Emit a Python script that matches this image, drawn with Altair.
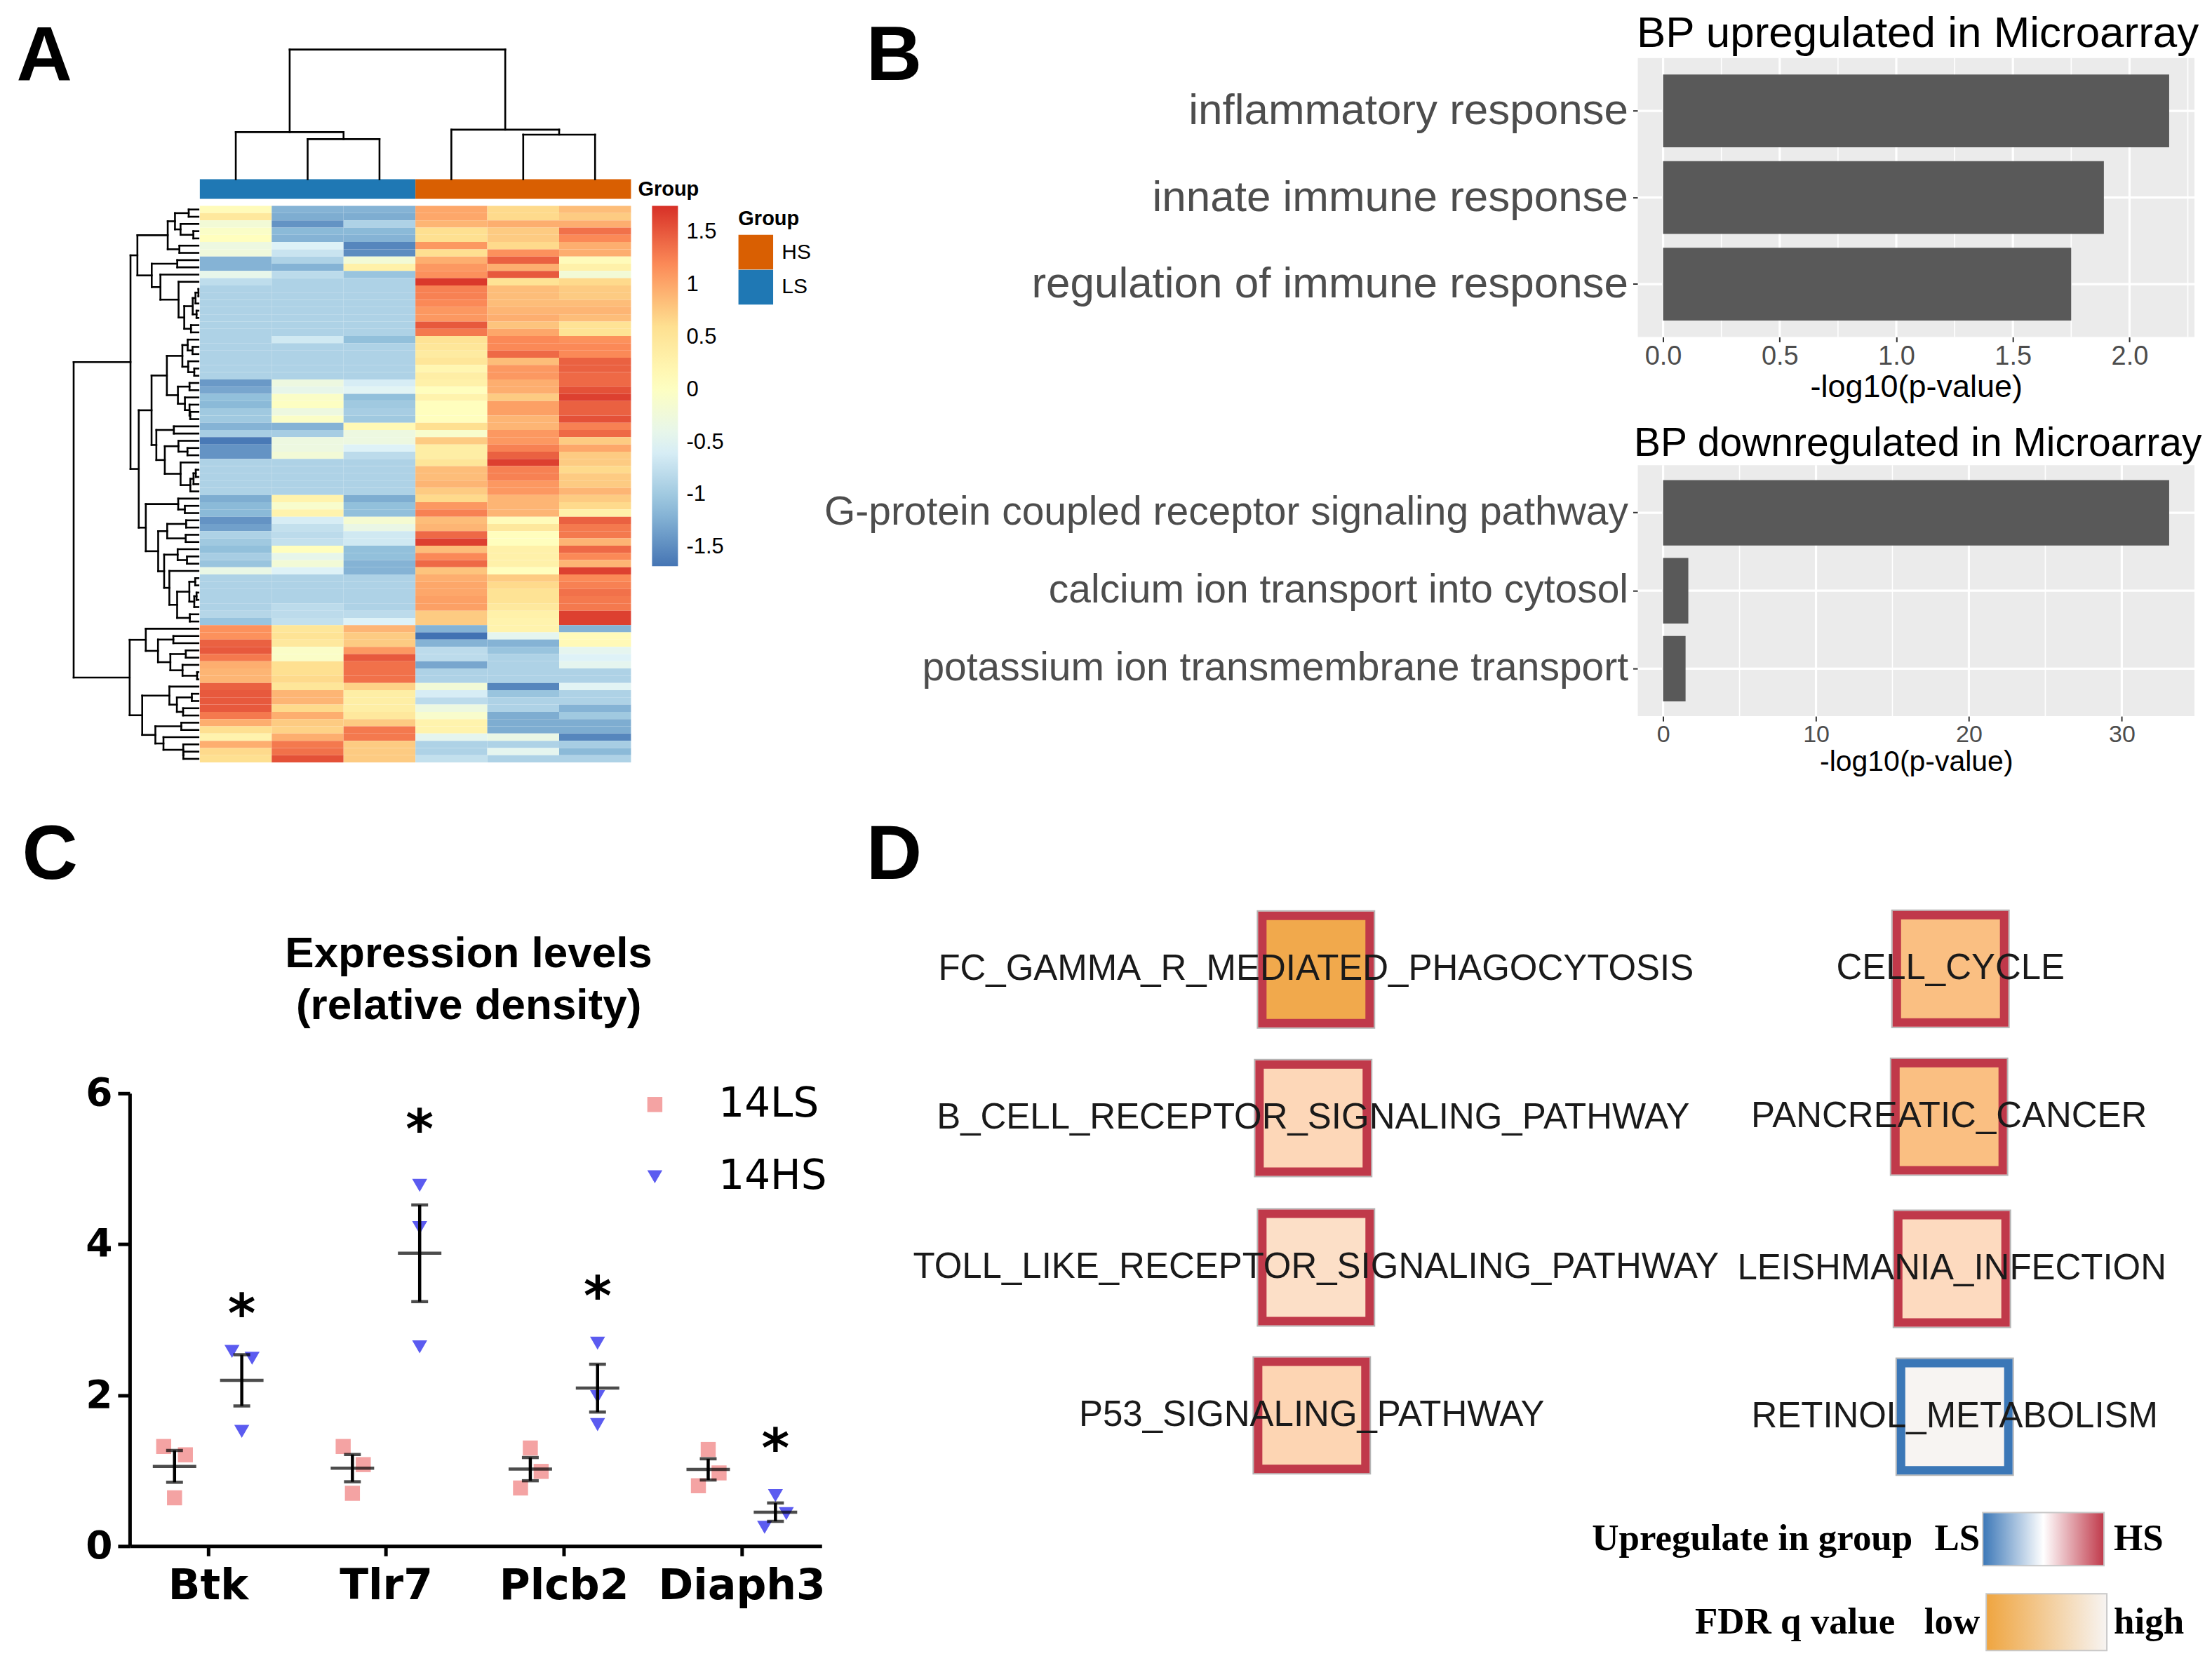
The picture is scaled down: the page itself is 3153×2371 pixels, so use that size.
import numpy as np
import pandas as pd
import altair as alt

# ======================= DATA =======================
# ---- Panel A: row-scaled expression (z-scores), 77 genes x 6 samples ----
LS1 = [0.1, 0.45, -0.2, -0.05, 0.05, -0.3, -0.25, -1.2, -1.2, -0.4,
       -0.78, -0.9, -0.9, -0.9, -0.9, -0.9, -0.9, -0.9, -0.9, -0.9,
       -0.9, -0.9, -0.9, -0.9, -1.4, -1.3, -1.1, -1.15, -1.0, -1.0,
       -1.2, -0.95, -1.65, -1.45, -1.45, -0.9, -0.9, -0.9, -0.9, -0.9,
       -1.25, -1.15, -1.15, -1.45, -1.35, -0.9, -1.0, -1.1, -0.95, -1.05,
       -0.35, -0.9, -0.9, -0.9, -0.9, -0.9, -0.85, -1.05,
       1.15, 1.15, 1.45, 1.5, 1.3, 0.95, 0.9, 0.9, 1.45, 1.5,
       1.5, 1.5, 1.3, 0.95, 0.6, 0.25, 0.95, 0.65, 0.6]
LS2 = [-1.2, -1.25, -1.45, -1.15, -1.2, -0.55, -0.7, -0.9, -1.2, -0.8,
       -0.9, -0.9, -0.9, -0.9, -0.9, -0.9, -0.9, -0.9, -0.65, -0.9,
       -0.9, -0.9, -0.9, -0.9, -0.3, -0.4, -0.05, 0.0, -0.3, -0.05,
       -1.2, -0.95, -0.3, -0.3, -0.2, -0.9, -0.9, -0.9, -0.9, -0.9,
       0.25, -0.1, 0.25, -0.6, -0.75, -0.8, -0.75, 0.05, -0.4, -0.2,
       -0.55, -0.9, -0.9, -0.9, -0.9, -0.8, -0.8, -0.75,
       0.5, 0.55, 0.45, -0.05, -0.05, 0.6, 0.6, 0.65, 0.5, 0.9,
       0.9, 0.65, 0.95, 0.75, 0.7, 0.95, 1.3, 1.35, 1.55]
LS3 = [-1.2, -1.25, -0.9, -1.15, -1.2, -1.55, -1.5, -0.2, 0.3, -1.05,
       -0.9, -0.9, -0.9, -0.9, -0.9, -0.9, -0.9, -0.9, -1.1, -0.9,
       -0.9, -0.9, -0.9, -0.9, -0.6, -0.5, -1.1, -1.0, -0.95, -1.0,
       0.15, -0.3, -0.3, -0.55, -0.8, -0.9, -0.9, -0.9, -0.9, -0.9,
       -1.25, -1.1, -1.1, -0.15, -0.35, -0.65, -0.65, -1.1, -1.1, -1.2,
       -1.2, -0.9, -0.9, -0.9, -0.9, -0.9, -0.8, -0.55,
       0.9, 0.75, 0.75, 1.1, 1.5, 1.35, 1.35, 1.35, 0.7, 0.35,
       0.35, 0.35, 0.45, 0.75, 1.3, 1.3, 0.75, 0.75, 0.75]
HS1 = [1.0, 1.0, 0.9, 0.6, 0.6, 1.1, 0.6, 0.95, 1.1, 1.15,
       1.7, 1.25, 1.25, 1.2, 1.1, 1.1, 1.5, 1.3, 0.55, 0.5,
       0.4, 0.5, 0.2, 0.35, 0.3, 0.05, 0.25, 0.05, 0.05, 0.05,
       0.6, -0.1, 0.75, 0.35, 0.35, 0.5, 0.85, 0.85, 0.9, 0.75,
       0.65, 1.1, 1.25, 0.85, 0.9, 1.4, 1.65, 0.85, 1.2, 1.4,
       0.8, 0.95, 1.0, 1.0, 1.05, 1.05, 0.75, 0.75,
       -1.2, -1.7, -1.2, -0.8, -0.8, -1.3, -0.9, -0.9, -0.2, -0.6,
       -0.8, -0.3, -0.1, 0.25, 0.25, -0.45, -0.9, -0.9, -0.75]
HS2 = [0.65, 0.65, 0.95, 0.75, 0.75, 0.65, 1.15, 1.45, 0.95, 1.5,
       0.55, 0.85, 0.85, 0.85, 0.9, 0.95, 0.8, 1.0, 1.2, 1.2,
       1.4, 0.85, 1.1, 1.1, 0.95, 0.95, 0.75, 1.05, 1.05, 0.9,
       0.9, 1.1, 1.1, 1.25, 1.45, 1.65, 1.25, 1.25, 1.1, 1.1,
       0.9, 0.9, 0.9, 0.1, 0.45, 0.05, 0.05, 0.3, 0.3, 0.3,
       0.05, 0.75, 0.65, 0.55, 0.55, 0.45, 0.3, 0.25,
       0.25, -0.45, -1.2, -1.05, -0.9, -0.9, -0.9, -0.9, -1.55, -1.05,
       -0.9, -0.9, -1.25, -1.25, -1.25, -0.35, -0.9, -0.45, -0.9]
HS3 = [0.85, 0.75, 0.95, 1.35, 1.2, 0.95, 0.95, 0.1, 0.3, -0.2,
       0.65, 0.75, 0.75, 0.85, 0.9, 0.85, 0.55, 0.55, 1.15, 1.2,
       1.2, 1.45, 1.45, 1.4, 1.4, 1.55, 1.65, 1.45, 1.45, 1.55,
       1.25, 1.4, 0.75, 1.0, 0.75, 0.75, 0.65, 0.75, 0.75, 0.9,
       0.75, 0.65, 0.3, 1.45, 1.3, 1.3, 0.9, 1.4, 1.2, 0.9,
       1.65, 1.2, 1.25, 1.35, 1.3, 1.3, 1.65, 1.65,
       -1.2, 0.1, 0.15, -0.45, -0.55, -0.45, -0.9, -0.9, -0.5, -0.9,
       -0.9, -1.2, -1.0, -1.25, -1.25, -1.55, -0.95, -1.15, -0.9]
sample_groups = ["LS", "LS", "LS", "HS", "HS", "HS"]
# column dendrogram (scipy-style ids, heights relative to root)
col_merge_a = [1, 0, 4, 3, 7]
col_merge_b = [2, 6, 5, 8, 9]
col_merge_h = [0.309, 0.363, 0.344, 0.382, 1.0]
heat_legend_ticks = [1.5, 1, 0.5, 0, -0.5, -1, -1.5]

# ---- Panel B ----
up_terms = ["inflammatory response", "innate immune response", "regulation of immune response"]
up_vals = [2.17, 1.89, 1.75]
up_major = [0, 0.5, 1.0, 1.5, 2.0]
up_minor = [0.25, 0.75, 1.25, 1.75, 2.25]
down_terms = ["G-protein coupled receptor signaling pathway", "calcium ion transport into cytosol",
              "potassium ion transmembrane transport"]
down_vals = [33.1, 1.65, 1.47]
down_major = [0, 10, 20, 30]
down_minor = [5, 15, 25]

# ---- Panel C ----
genes = ["Btk", "Tlr7", "Plcb2", "Diaph3"]
ls_vals = [[1.32, 1.21, 0.64], [1.32, 1.08, 0.70], [1.30, 0.99, 0.77], [1.28, 0.97, 0.80]]
hs_vals = [[2.58, 2.49, 1.52], [4.78, 4.22, 2.64], [2.69, 1.98, 1.61], [0.67, 0.43, 0.25]]
ls_jitter = [[-0.061, 0.061, 0.0], [-0.052, 0.061, 0.0], [0.0, 0.061, -0.055], [0.0, 0.061, -0.055]]
hs_jitter = [[-0.055, 0.058, 0.0], [0.0, 0.0, 0.0], [0.0, 0.0, 0.0], [0.0, 0.061, -0.061]]
star_y = [3.2, 5.64, 3.43, 1.42]
group_names = ["14LS", "14HS"]

# ---- Panel D ----
d_names = ["FC_GAMMA_R_MEDIATED_PHAGOCYTOSIS", "B_CELL_RECEPTOR_SIGNALING_PATHWAY",
           "TOLL_LIKE_RECEPTOR_SIGNALING_PATHWAY", "P53_SIGNALING_PATHWAY",
           "CELL_CYCLE", "PANCREATIC_CANCER", "LEISHMANIA_INFECTION", "RETINOL_METABOLISM"]
d_x = [-452, -456, -452, -458, 453, 451, 455, 459]
d_y = [-318, -106, 107, 318, -319, -108, 109, 320]
d_dir = [1, 1, 1, 1, 1, 1, 1, -1]        # 1 = up in HS, -1 = up in LS
d_fdr = [0.06, 0.66, 0.75, 0.63, 0.35, 0.35, 0.70, 1.0]   # relative FDR q (low..high)

# ======================= STYLE =======================
SANS = "Liberation Sans"
SERIF = "Liberation Serif"
DEJAVU = "DejaVu Sans"
HEAT_COLORS = ["#4575B4", "#91BFDB", "#E0F3F8", "#FFFFBF", "#FEE090", "#FC8D59", "#D73027"]
GROUP_COLORS = ["#D95F02", "#1F78B4"]   # HS, LS
STROKE_RANGE = ["#3B77B7", "#FFFFFF", "#C0394A"]
FDR_RANGE = ["#EFA540", "#F7F4F2"]
NO_VIEW = alt.ViewBackground(stroke="transparent", strokeWidth=0)


def letter_axis(letter, tx, ty, **kw):
    """Hidden axis whose title carries a panel letter."""
    base = dict(title=letter, titleX=tx, titleY=ty, titleAngle=0, titleAlign="left",
                titleBaseline="alphabetic", titleFont=SANS, titleFontSize=110,
                titleFontWeight="bold", titleColor="black", labels=False, ticks=False,
                domain=False, grid=False)
    base.update(kw)
    return alt.Axis(**base)


# ======================= PANEL A =======================
M = np.array([LS1, LS2, LS3, HS1, HS2, HS3]).T
n_rows = M.shape[0]
ANN_Y0, ANN_Y1 = -3.69, -0.97
COL_TREE_TOP = -21.63
ROW_TREE_LEFT = -1.756
LEAF_GAP = -0.02
A_LEFT, A_TOP, A_W, A_H = 185, 76, 715, 1005

heat_df = pd.DataFrame([{"x0": c, "x1": c + 1, "y0": r, "y1": r + 1, "value": float(M[r, c])}
                        for r in range(n_rows) for c in range(6)])


def constrained_complete(mat):
    D = np.sqrt(((mat[:, None, :] - mat[None, :, :]) ** 2).sum(-1))
    clusters = [[i] for i in range(len(mat))]
    nodes = [(i + 0.5, 0.0) for i in range(len(mat))]
    segs = []
    while len(clusters) > 1:
        d = [D[np.ix_(clusters[k], clusters[k + 1])].max() for k in range(len(clusters) - 1)]
        k = int(np.argmin(d))
        h = d[k]
        (pa, ha), (pb, hb) = nodes[k], nodes[k + 1]
        segs += [(pa, ha, pa, h), (pb, hb, pb, h), (pa, h, pb, h)]
        clusters[k:k + 2] = [clusters[k] + clusters[k + 1]]
        nodes[k:k + 2] = [((pa + pb) / 2, h)]
    return segs, nodes[0][1]


rsegs, rtop = constrained_complete(M)
hx = lambda h: LEAF_GAP + (ROW_TREE_LEFT - LEAF_GAP) * h / rtop
row_tree_df = pd.DataFrame([{"x": hx(h1), "x2": hx(h2), "y": p1, "y2": p2} for p1, h1, p2, h2 in rsegs])

cnodes = {i: (i + 0.5, 0.0) for i in range(6)}
csegs = []
for j, (a, b, h) in enumerate(zip(col_merge_a, col_merge_b, col_merge_h)):
    (pa, ha), (pb, hb) = cnodes[a], cnodes[b]
    csegs += [(pa, ha, pa, h), (pb, hb, pb, h), (pa, h, pb, h)]
    cnodes[6 + j] = ((pa + pb) / 2, h)
cy = lambda h: ANN_Y0 + (COL_TREE_TOP - ANN_Y0) * h
col_tree_df = pd.DataFrame([{"x": p1, "x2": p2, "y": cy(h1), "y2": cy(h2)} for p1, h1, p2, h2 in csegs])

ann_df = pd.DataFrame({"grp": ["LS", "HS"],
                       "x0": [sample_groups.index("LS"), sample_groups.index("HS")],
                       "x1": [sample_groups.index("LS") + sample_groups.count("LS"),
                              sample_groups.index("HS") + sample_groups.count("HS")],
                       "y0": [ANN_Y0, ANN_Y0], "y1": [ANN_Y1, ANN_Y1]})
ann_label_df = pd.DataFrame({"x": [6], "y": [(ANN_Y0 + ANN_Y1) / 2], "t": ["Group"]})

xsA = alt.Scale(domain=[-0.976, 6], nice=False, zero=False)
ysA = alt.Scale(domain=[-20.46, 77], nice=False, zero=False, reverse=True)
axA_y = letter_axis("A", 23 - A_LEFT, 107 - A_TOP)
axA_x = letter_axis("B", 1235 - A_LEFT, 107 - A_TOP - A_H)   # letter of panel B
vmin, vmax = -1.68, 1.75
heat_domain = [float(v) for v in np.linspace(vmin, vmax, len(HEAT_COLORS))]

heat = alt.Chart(heat_df).mark_rect().encode(
    x=alt.X("x0:Q", scale=xsA, axis=axA_x), x2="x1",
    y=alt.Y("y0:Q", scale=ysA, axis=axA_y), y2="y1",
    color=alt.Color("value:Q", scale=alt.Scale(domain=heat_domain, range=HEAT_COLORS, interpolate="rgb"),
                    legend=alt.Legend(type="gradient", orient="none", legendX=745, legendY=211, title=None,
                                      direction="vertical", gradientLength=514, gradientThickness=37,
                                      gradientStrokeWidth=0, values=heat_legend_ticks,
                                      labelExpr="toString(datum.value)", labelFont=SANS,
                                      labelFontSize=31, labelColor="black", labelOffset=12,
                                      labelOverlap=False)),
)
ann = alt.Chart(ann_df).mark_rect().encode(
    x=alt.X("x0:Q", scale=xsA, axis=axA_x), x2="x1",
    y=alt.Y("y0:Q", scale=ysA, axis=axA_y), y2="y1",
    color=alt.Color("grp:N", scale=alt.Scale(domain=["HS", "LS"], range=GROUP_COLORS),
                    legend=alt.Legend(orient="none", legendX=868, legendY=215, title="Group",
                                      titleFont=SANS, titleFontSize=29, titleFontWeight="bold",
                                      titleColor="black", titlePadding=8, labelFont=SANS,
                                      labelFontSize=30, labelColor="black", symbolType="square",
                                      symbolSize=2450, symbolStrokeWidth=0, rowPadding=0,
                                      labelOffset=12)),
)
ann_label = alt.Chart(ann_label_df).mark_text(align="left", baseline="middle", dx=10, font=SANS,
                                              fontSize=29, fontWeight="bold", color="black").encode(
    x=alt.X("x:Q", scale=xsA, axis=axA_x), y=alt.Y("y:Q", scale=ysA, axis=axA_y), text="t:N")
row_tree = alt.Chart(row_tree_df).mark_rule(color="black", strokeWidth=2.6, strokeCap="square").encode(
    x=alt.X("x:Q", scale=xsA, axis=axA_x), x2="x2",
    y=alt.Y("y:Q", scale=ysA, axis=axA_y), y2="y2")
col_tree = alt.Chart(col_tree_df).mark_rule(color="black", strokeWidth=2.6, strokeCap="square").encode(
    x=alt.X("x:Q", scale=xsA, axis=axA_x), x2="x2",
    y=alt.Y("y:Q", scale=ysA, axis=axA_y), y2="y2")

panelA = alt.layer(heat, ann, ann_label, row_tree, col_tree).resolve_scale(
    color="independent").properties(width=A_W, height=A_H, view=NO_VIEW)


# ======================= PANEL B =======================
def bp_panel(terms, vals, domain, major, minor, fmt, title, h, pin, pout, fs, tx, ty):
    xs = alt.Scale(domain=domain, nice=False, zero=False)
    ys = alt.Scale(paddingInner=pin, paddingOuter=pout)
    xax = alt.Axis(values=major, format=fmt, title="-log10(p-value)", grid=False, domain=False,
                   tickSize=7, tickWidth=2, tickColor="#333333", labelFont=SANS,
                   labelFontSize=fs["tick"], labelColor="#4D4D4D", labelPadding=2, titleFont=SANS,
                   titleFontSize=fs["axis"], titleFontWeight="normal", titleColor="black", titlePadding=2)
    yax = alt.Axis(grid=False, domain=False, tickSize=7, tickWidth=2, tickColor="#333333",
                   labelFont=SANS, labelFontSize=fs["label"], labelColor="#4D4D4D", labelPadding=7,
                   labelLimit=3000, title=title, titleX=tx, titleY=ty, titleAngle=0, titleAlign="left",
                   titleBaseline="alphabetic", titleFont=SANS, titleFontSize=fs["title"],
                   titleFontWeight="normal", titleColor="black")
    X = alt.X("val:Q", scale=xs, axis=xax)
    Y = alt.Y("term:N", scale=ys, axis=yax, sort=terms)
    minor_l = alt.Chart(pd.DataFrame({"val": minor})).mark_rule(color="white", strokeWidth=1.6).encode(x=X)
    major_l = alt.Chart(pd.DataFrame({"val": major})).mark_rule(color="white", strokeWidth=3.2).encode(x=X)
    ygrid = alt.Chart(pd.DataFrame({"term": terms})).mark_rule(color="white", strokeWidth=3.2).encode(y=Y)
    bars = alt.Chart(pd.DataFrame({"term": terms, "val": vals})).mark_bar(color="#595959").encode(x=X, y=Y)
    return alt.layer(minor_l, major_l, ygrid, bars).properties(
        width=794, height=h, view=alt.ViewBackground(fill="#EBEBEB", stroke="transparent", strokeWidth=0))


up_dom = [-0.05 * max(up_vals), 1.05 * max(up_vals)]
down_dom = [-0.05 * max(down_vals), 1.05 * max(down_vals)]
Btop = bp_panel(up_terms, up_vals, up_dom, up_major, up_minor, ".1f",
                "BP upregulated in Microarray", 398, 0.16, 0.19,
                dict(tick=38, axis=45, label=62, title=62), -2, 60 - 76)
Bbot = bp_panel(down_terms, down_vals, down_dom, down_major, down_minor, "d",
                "BP downregulated in Microarray", 358, 0.16, 0.19,
                dict(tick=34, axis=41, label=57, title=57), -6, 643 - 657)

# ======================= PANEL C =======================
C_LEFT, C_TOP, C_W, C_H = 185, 1553, 987, 646
LS_OFF, HS_OFF = -0.188, 0.19
pts = []
for gi, g in enumerate(genes):
    for grp, vals, jit, off in ((group_names[0], ls_vals[gi], ls_jitter[gi], LS_OFF),
                                (group_names[1], hs_vals[gi], hs_jitter[gi], HS_OFF)):
        for v, j in zip(vals, jit):
            pts.append({"gene": g, "grp": grp, "xc": gi + off, "xpos": gi + off + j, "value": v})
pts_df = pd.DataFrame(pts)
summ = pts_df.groupby(["gene", "grp", "xc"])["value"].agg(["mean", "std", "count"]).reset_index()
summ["sem"] = summ["std"] / np.sqrt(summ["count"])
summ = pd.DataFrame({"xpos": summ["xc"], "avg": summ["mean"],
                     "lo": summ["mean"] - summ["sem"], "hi": summ["mean"] + summ["sem"]})
stars_df = pd.DataFrame({"xpos": [i + HS_OFF for i in range(len(genes))], "sy": star_y, "t": ["*"] * len(genes)})

xsC = alt.Scale(domain=[-0.44, 3.45], nice=False, zero=False)
ysC = alt.Scale(domain=[0, 6], nice=False, zero=False)
label_expr = "[" + ",".join("'%s'" % g for g in genes) + "][datum.value]"
xaxC = alt.Axis(values=list(range(len(genes))), labelExpr=label_expr, grid=False, domainColor="black",
                domainWidth=5, tickColor="black", tickWidth=5, tickSize=14, labelFont=DEJAVU,
                labelFontSize=60, labelFontWeight="bold", labelColor="black", labelPadding=14,
                labelLimit=1000,
                title=["Expression levels", "(relative density)"], titleX=668 - C_LEFT,
                titleY=1373 - (C_TOP + C_H), titleAngle=0, titleAlign="center",
                titleBaseline="alphabetic", titleLineHeight=74, titleFont=SANS, titleFontSize=62,
                titleFontWeight="bold", titleColor="black")
yaxC = alt.Axis(values=[0, 2, 4, 6], format="d", grid=False, domainColor="black", domainWidth=5,
                tickColor="black", tickWidth=5, tickSize=17, labelFont=DEJAVU, labelFontSize=55,
                labelFontWeight="bold", labelColor="black", labelPadding=8,
                title="C", titleX=31 - C_LEFT, titleY=1247 - C_TOP, titleAngle=0, titleAlign="left",
                titleBaseline="alphabetic", titleFont=SANS, titleFontSize=110,
                titleFontWeight="bold", titleColor="black")
XC = alt.X("xpos:Q", scale=xsC, axis=xaxC)
legC = alt.Legend(orient="none", legendX=720, legendY=-13, title=None, labelFont=DEJAVU,
                  labelFontSize=58, labelColor="black", symbolSize=460, symbolStrokeWidth=0,
                  rowPadding=45, labelOffset=62)
points = alt.Chart(pts_df).mark_point(filled=True, size=460, opacity=1).encode(
    x=XC, y=alt.Y("value:Q", scale=ysC, axis=yaxC),
    color=alt.Color("grp:N", scale=alt.Scale(domain=group_names, range=["#F4A3A3", "#5B5BF0"]), legend=legC),
    shape=alt.Shape("grp:N", scale=alt.Scale(domain=group_names, range=["square", "triangle-down"]), legend=legC),
)
err = alt.Chart(summ).mark_rule(color="black", strokeWidth=4.5).encode(
    x=XC, y=alt.Y("lo:Q", scale=ysC, axis=yaxC), y2="hi")
mean_t = alt.Chart(summ).mark_tick(orient="horizontal", size=62, thickness=4.5, color="black").encode(
    x=XC, y=alt.Y("avg:Q", scale=ysC, axis=yaxC))
cap_lo = alt.Chart(summ).mark_tick(orient="horizontal", size=24, thickness=4.5, color="black").encode(
    x=XC, y=alt.Y("lo:Q", scale=ysC, axis=yaxC))
cap_hi = alt.Chart(summ).mark_tick(orient="horizontal", size=24, thickness=4.5, color="black").encode(
    x=XC, y=alt.Y("hi:Q", scale=ysC, axis=yaxC))
stars = alt.Chart(stars_df).mark_text(font=DEJAVU, fontSize=76, fontWeight="bold", color="black",
                                      baseline="middle", dy=16).encode(
    x=XC, y=alt.Y("sy:Q", scale=ysC, axis=yaxC), text="t:N")
panelC = alt.layer(points, err, mean_t, cap_lo, cap_hi, stars).properties(
    width=C_W, height=C_H, view=NO_VIEW)

# ======================= PANEL D =======================
D_TOP, D_LEFT = 1198, 2336      # reference position of the network view's top-left corner
d_df = pd.DataFrame({"name": d_names, "lx": d_x, "ly": d_y, "dir": d_dir, "fdr": d_fdr})
XD = alt.X("lx:Q", scale=alt.Scale(domain=[7, 801], nice=False, zero=False), axis=None)
YD = alt.Y("ly:Q", scale=alt.Scale(domain=[-496.4, 416.6], nice=False, zero=False, reverse=True),
           axis=letter_axis("D", 1235 - D_LEFT, 1247 - D_TOP))
outline = alt.Chart(d_df).mark_square(size=167 * 167, filled=False, stroke="#B4B4B4", strokeWidth=2,
                                      opacity=1).encode(x=XD, y=YD)
nodes = alt.Chart(d_df).mark_square(size=153 * 153, strokeWidth=12, opacity=1, strokeOpacity=1).encode(
    x=XD, y=YD,
    fill=alt.Fill("fdr:Q", scale=alt.Scale(domain=[0, 1], range=FDR_RANGE), legend=None),
    stroke=alt.Stroke("dir:Q", scale=alt.Scale(domain=[-1, 0, 1], range=STROKE_RANGE), legend=None))
labels = alt.Chart(d_df).mark_text(font=SANS, fontSize=51, color="#1A1A1A").encode(x=XD, y=YD, text="name:N")
Dnet = alt.layer(outline, nodes, labels).properties(width=794, height=2111 - D_TOP, view=NO_VIEW)


def legend_row(lo, hi, colors, px_range, title, lo_lab, hi_lab, title_dx, lo_dx, hi_dx, h):
    xs = alt.Scale(domain=[lo, hi], range=px_range, nice=False, zero=False)
    grad = alt.LinearGradient(gradient="linear", x1=0, x2=1, y1=0, y2=0,
                              stops=[alt.GradientStop(color=c, offset=i / (len(colors) - 1))
                                     for i, c in enumerate(colors)])
    bar = alt.Chart(pd.DataFrame({"a": [lo], "b": [hi]})).mark_rect(
        fill=grad, stroke="#C8C8C8", strokeWidth=2).encode(x=alt.X("a:Q", scale=xs, axis=None), x2="b")
    txt = dict(font=SERIF, fontSize=53, fontWeight="bold", color="black", baseline="middle")
    t_title = alt.Chart(pd.DataFrame({"p": [lo], "t": [title]})).mark_text(align="right", dx=title_dx, **txt).encode(
        x=alt.X("p:Q", scale=xs, axis=None), y=alt.value(h / 2), text="t:N")
    t_lo = alt.Chart(pd.DataFrame({"p": [lo], "t": [lo_lab]})).mark_text(align="right", dx=lo_dx, **txt).encode(
        x=alt.X("p:Q", scale=xs, axis=None), y=alt.value(h / 2), text="t:N")
    t_hi = alt.Chart(pd.DataFrame({"p": [hi], "t": [hi_lab]})).mark_text(align="left", dx=hi_dx, **txt).encode(
        x=alt.X("p:Q", scale=xs, axis=None), y=alt.value(h / 2), text="t:N")
    return alt.layer(bar, t_title, t_lo, t_hi).properties(width=794, height=h, view=NO_VIEW)


leg1 = legend_row(-1, 1, STROKE_RANGE, [2828 - D_LEFT, 3001 - D_LEFT], "Upregulate in group",
                  "LS", "HS", -100, -4, 14, 76)
leg2 = legend_row(0, 1, FDR_RANGE, [2833 - D_LEFT, 3005 - D_LEFT], "FDR q value",
                  "low", "high", -130, -9, 10, 81)
Dgroup = alt.vconcat(Dnet, leg1, leg2, spacing=40, bounds="flush").resolve_scale(
    fill="independent", stroke="independent")

# ======================= ASSEMBLY =======================
res = dict(color="independent", fill="independent", stroke="independent", shape="independent")
leftCol = alt.vconcat(panelA, panelC, spacing=C_TOP - (A_TOP + A_H), bounds="flush").resolve_scale(**res)
rightCol = alt.vconcat(Btop, Bbot, Dgroup, spacing=183, bounds="flush").resolve_scale(**res)
chart = alt.hconcat(leftCol, rightCol, spacing=2336 - A_LEFT, bounds="flush").resolve_scale(**res).properties(
    padding={"left": 15, "top": 8, "right": 5, "bottom": 5}, background="white"
).configure_view(stroke="transparent", strokeWidth=0).configure(font=SANS)

chart.save("out.html", embed_options={"renderer": "svg", "actions": False})
